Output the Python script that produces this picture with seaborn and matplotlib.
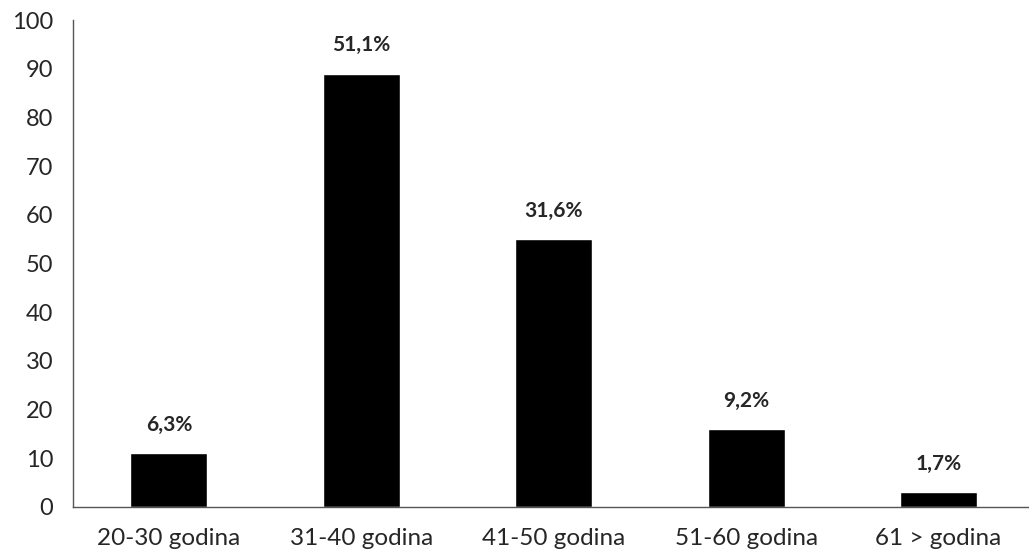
import matplotlib
matplotlib.use("Agg")
import matplotlib.pyplot as plt
import seaborn as sns
import numpy as np
import pandas as pd

# age groups and counts
categories = ["20-30 godina", "31-40 godina", "41-50 godina", "51-60 godina", "61 > godina"]
counts = [11, 89, 55, 16, 3]
percent_labels = ["6,3%", "51,1%", "31,6%", "9,2%", "1,7%"]

df = pd.DataFrame({"group": categories, "count": counts})

sns.set_style("white")
plt.rcParams["font.family"] = ["Lato", "DejaVu Sans"]

fig = plt.figure(figsize=(10.29, 5.51), dpi=100)
ax = fig.add_axes([0.0706, 0.0799, 0.9294, 0.8838])

sns.barplot(data=df, x="group", y="count", color="black", width=0.4,
            saturation=1, ax=ax)

# percentage labels above bars
for i, (c, lab) in enumerate(zip(counts, percent_labels)):
    ax.text(i, c + 3.8, lab, ha="center", va="bottom", fontsize=15, fontweight="bold")

ax.set_ylim(0, 100)
ax.set_xlim(-0.5, 4.47)
ax.set_yticks(range(0, 101, 10))
ax.set_xlabel("")
ax.set_ylabel("")
ax.tick_params(axis="y", labelsize=17, length=5, color="#555555", width=1, pad=9)
ax.tick_params(axis="x", labelsize=17.5, length=0, pad=15)
ax.set_xticks(np.arange(-0.5, 4.5, 1), minor=True)
ax.tick_params(axis="x", which="minor", length=5, color="#555555", width=1)

for s in ["top", "right"]:
    ax.spines[s].set_visible(False)
for s in ["left", "bottom"]:
    ax.spines[s].set_color("#555555")
    ax.spines[s].set_linewidth(1)

fig.savefig("out.png", dpi=100)
